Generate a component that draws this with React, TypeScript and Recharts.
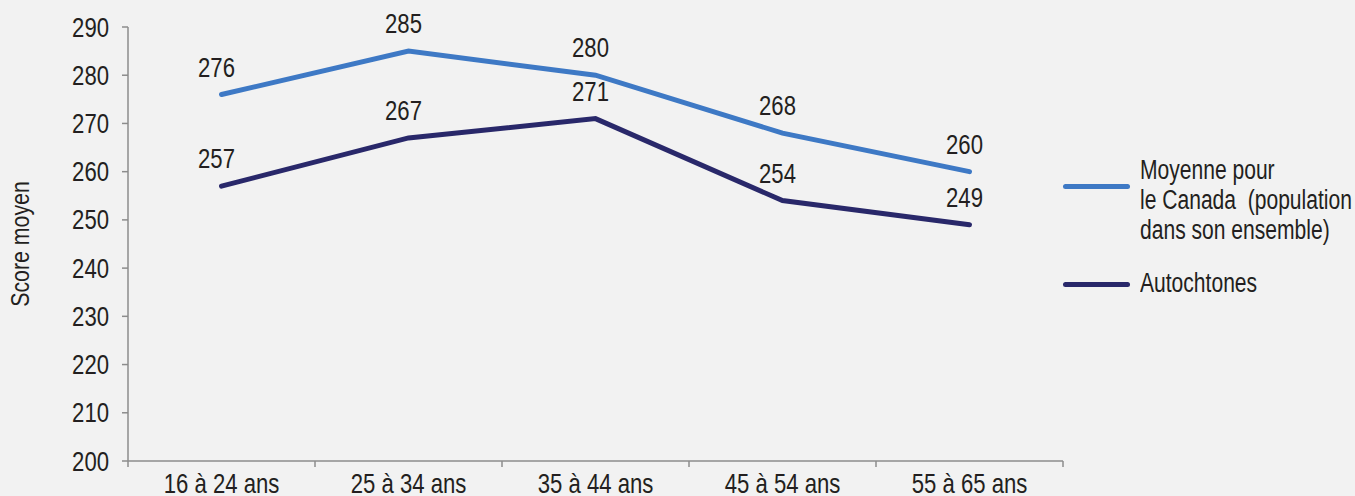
import React from 'react';
import { LineChart, Line, XAxis, YAxis, Legend, LabelList, Label } from 'recharts';

const categories = ['16 à 24 ans', '25 à 34 ans', '35 à 44 ans', '45 à 54 ans', '55 à 65 ans'];
const canadaValues = [276, 285, 280, 268, 260];
const autochtonesValues = [257, 267, 271, 254, 249];
const yTicks = [200, 210, 220, 230, 240, 250, 260, 270, 280, 290];
const boundaryTicks = [0, 1, 2, 3, 4, 5];
const seriesNames = ['Moyenne pour\nle Canada  (population\ndans son ensemble)', 'Autochtones'];
const seriesColors = ['#3e79c5', '#29286a'];
const yAxisTitle = 'Score moyen';

const data = categories.map((c, i) => ({
  cat: c,
  pos: i + 0.5,
  canada: canadaValues[i],
  autochtones: autochtonesValues[i],
}));

const FONT = '"Liberation Sans", Arial, sans-serif';
const FS = 27;
const SX = 0.82;
const LEGEND_SX = 0.78;
const TEXT = '#231f20';
const AXIS = '#8c8c8c';

const NarrowText = ({ x, y, anchor, dy, size, children }: any) => (
  <g transform={`translate(${x},${y}) scale(${SX},1)`}>
    <text x={0} y={0} dy={dy} textAnchor={anchor} fill={TEXT} fontSize={size || FS} fontFamily={FONT}>
      {children}
    </text>
  </g>
);

const YTick = (props: any) => (
  <NarrowText x={props.x} y={props.y} anchor="end" dy="0.355em">
    {props.payload.value}
  </NarrowText>
);

const XTick = (props: any) => (
  <NarrowText x={props.x} y={props.y} anchor="middle" dy="0.71em">
    {props.payload.value}
  </NarrowText>
);

const PointLabel = (props: any) => (
  <NarrowText x={props.x - 5} y={props.y - 18} anchor="middle">
    {props.value}
  </NarrowText>
);

const YTitle = (props: any) => {
  const vb = props.viewBox || { x: 0, y: 27, width: 128, height: 434 };
  return (
    <g transform={`translate(${vb.x + 20},${vb.y + vb.height / 2}) rotate(-90) scale(${SX},1)`}>
      <text x={0} y={0} dy="0.355em" textAnchor="middle" fill={TEXT} fontSize={26} fontFamily={FONT}>
        {yAxisTitle}
      </text>
    </g>
  );
};

const LegendContent = () => (
  <div style={{ position: 'relative', width: 292, height: 170, fontFamily: FONT, fontSize: FS, color: TEXT }}>
    {seriesNames.map((n, i) => (
      <React.Fragment key={i}>
        <div
          style={{
            position: 'absolute',
            left: 0,
            top: i === 0 ? 44 : 141.5,
            width: 67,
            height: 5,
            borderRadius: 3,
            background: seriesColors[i],
          }}
        />
        <div
          style={{
            position: 'absolute',
            left: 77,
            top: i === 0 ? 15 : 128,
            whiteSpace: 'pre',
            lineHeight: '30px',
            transform: `scaleX(${LEGEND_SX})`,
            transformOrigin: 'left top',
          }}
        >
          {n}
        </div>
      </React.Fragment>
    ))}
  </div>
);

export default function App() {
  return (
    <div style={{ position: 'absolute', left: 0, top: 0, width: 1355, height: 496, background: '#f2f2f2' }}>
      <LineChart width={1355} height={496} data={data} margin={{ top: 27, right: 292, bottom: 5, left: 0 }}>
        <XAxis
          xAxisId="b"
          dataKey="cat"
          scale="band"
          height={29}
          axisLine={false}
          tickLine={false}
          tickMargin={6}
          tick={XTick}
          interval={0}
        />
        <XAxis
          xAxisId="a"
          dataKey="pos"
          type="number"
          domain={[0, 5]}
          ticks={boundaryTicks}
          interval={0}
          height={1}
          tickFormatter={() => ''}
          stroke={AXIS}
          strokeWidth={1.5}
          tickSize={6}
        />
        <YAxis
          width={128}
          domain={[200, 290]}
          ticks={yTicks}
          interval={0}
          stroke={AXIS}
          strokeWidth={1.5}
          tickSize={6}
          tickMargin={13}
          tick={YTick}
        >
          <Label content={YTitle} position="insideLeft" />
        </YAxis>
        <Legend
          layout="horizontal"
          verticalAlign="middle"
          align="center"
          content={LegendContent}
          wrapperStyle={{ left: 1063, top: 140, width: 292 }}
        />
        <Line
          xAxisId="b"
          dataKey="canada"
          name={seriesNames[0]}
          stroke={seriesColors[0]}
          strokeWidth={5}
          strokeLinecap="round"
          dot={false}
          activeDot={false}
          isAnimationActive={false}
        >
          <LabelList dataKey="canada" content={PointLabel} />
        </Line>
        <Line
          xAxisId="b"
          dataKey="autochtones"
          name={seriesNames[1]}
          stroke={seriesColors[1]}
          strokeWidth={5}
          strokeLinecap="round"
          dot={false}
          activeDot={false}
          isAnimationActive={false}
        >
          <LabelList dataKey="autochtones" content={PointLabel} />
        </Line>
      </LineChart>
    </div>
  );
}
